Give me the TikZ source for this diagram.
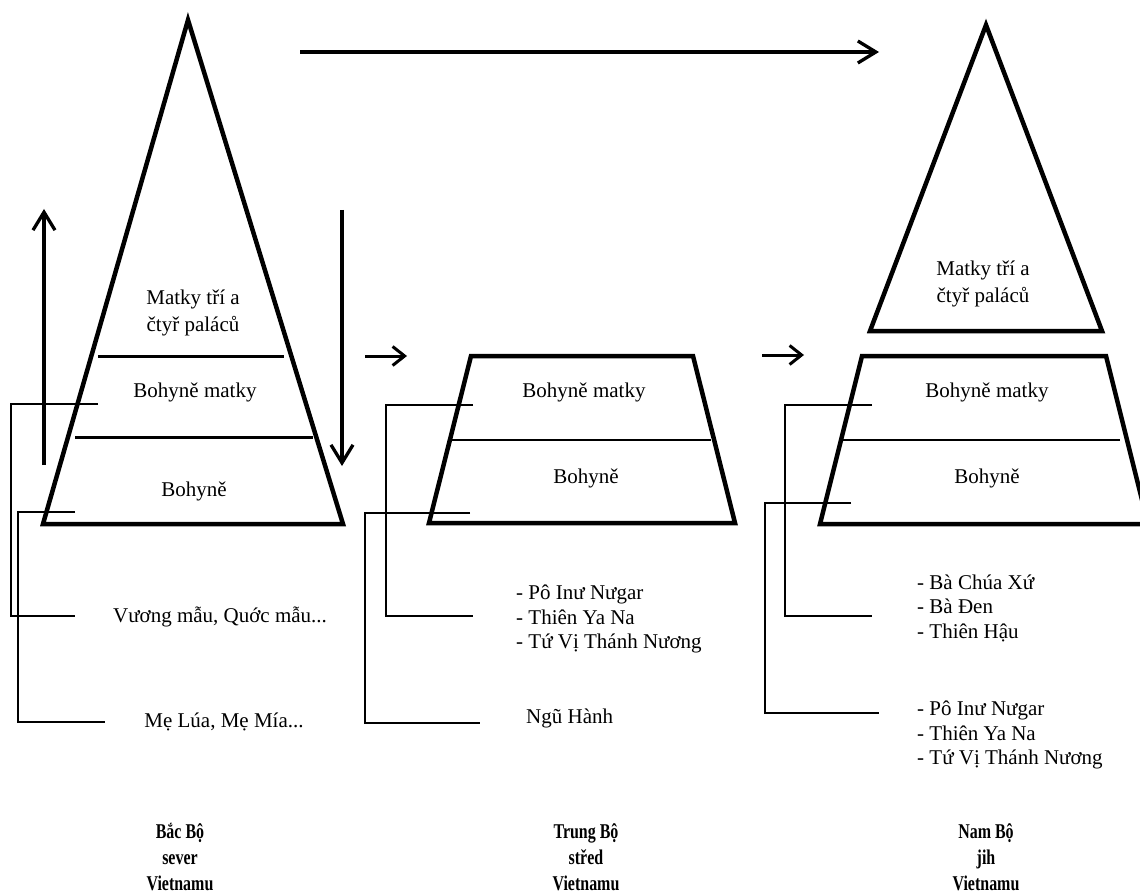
\documentclass[tikz,border=0pt]{standalone}
\usepackage{fontspec}
\setmainfont{Liberation Serif}
\newfontfamily\condfont[FakeStretch=0.76]{Liberation Serif}
\usetikzlibrary{arrows.meta}
\tikzset{
  pyr/.style={line width=4.5pt, line join=miter},
  sepA/.style={line width=3pt},
  sepB/.style={line width=2pt},
  brk/.style={line width=1.5pt},
  bigarrow/.style={line width=3.3pt, -{Straight Barb[length=18pt,width=22pt]}},
  smallarrow/.style={line width=3pt, -{Straight Barb[length=12pt,width=19pt]}},
  lbl/.style={inner sep=0pt, align=center, font=\fontsize{21}{27}\selectfont},
  lst/.style={inner sep=0pt, align=left, font=\fontsize{21}{24.5}\selectfont},
  reg/.style={inner sep=0pt, align=center, font=\condfont\bfseries\fontsize{21}{26}\selectfont}
}
\begin{document}
\begin{tikzpicture}[x=1pt,y=-1pt]
\useasboundingbox (0,0) rectangle (1140,893);
\fill[white] (0,0) rectangle (1140,893);

% ---------- left pyramid ----------
\coordinate (LA) at (188,20);
\coordinate (LR) at (343,524);
\coordinate (LL) at (43,524);
\draw[pyr] (LA) -- (LR) -- (LL) -- cycle;
\coordinate (LS1a) at (98,356); \coordinate (LS1b) at (284,356);
\coordinate (LS2a) at (75,437); \coordinate (LS2b) at (313,437);
\draw[sepA] (LS1a) -- (LS1b);
\draw[sepA] (LS2a) -- (LS2b);
\node[lbl] (lm) at (193,313) {Matky tří a\\čtyř paláců};
\node[lbl] (lbm) at (195,392) {Bohyně matky};
\node[lbl] (lb) at (194,491) {Bohyně};

% side arrows
\coordinate (upS) at (44,465); \coordinate (upE) at (44,209);
\draw[bigarrow] (upS) -- (upE);
\coordinate (dnS) at (342,210); \coordinate (dnE) at (342,466);
\draw[bigarrow] (dnS) -- (dnE);

% top arrow
\coordinate (tS) at (300,52); \coordinate (tE) at (879,52);
\draw[bigarrow] (tS) -- (tE);

% left texts
\node[lbl] (vm) at (220,617) {Vương mẫu, Quớc mẫu...};
\node[lbl] (ml) at (224,722) {Mẹ Lúa, Mẹ Mía...};
\coordinate (LB1s) at (98,404); \coordinate (LB1e) at (75,616);
\draw[brk] (LB1s) -- (11,404) |- (LB1e);
\coordinate (LB2s) at (75,512); \coordinate (LB2e) at (105,722);
\draw[brk] (LB2s) -- (18,512) |- (LB2e);

% ---------- middle trapezoid ----------
\coordinate (sa1S) at (365,356); \coordinate (sa1E) at (407,356);
\draw[smallarrow] (sa1S) -- (sa1E);
\draw[pyr] (471,356) -- (693,356) -- (735,523) -- (429,523) -- cycle;
\coordinate (MSa) at (452,440); \coordinate (MSb) at (711,440);
\draw[sepB] (MSa) -- (MSb);
\node[lbl] (mbm) at (584,392) {Bohyně matky};
\node[lbl] (mb) at (586,478) {Bohyně};
\node[lst, anchor=west] (mlist) at (516,619) {- Pô Inư Nưgar\\- Thiên Ya Na\\- Tứ Vị Thánh Nương};
\node[lst, anchor=west] (ngu) at (526,718) {Ngũ Hành};
\coordinate (MB1s) at (473,405); \coordinate (MB1e) at (473,616);
\draw[brk] (MB1s) -- (386,405) |- (MB1e);
\coordinate (MB2s) at (470,513); \coordinate (MB2e) at (480,723);
\draw[brk] (MB2s) -- (365,513) |- (MB2e);

% ---------- right ----------
\coordinate (sa2S) at (762,355); \coordinate (sa2E) at (804,355);
\draw[smallarrow] (sa2S) -- (sa2E);
\draw[pyr] (986,25) -- (1102,331) -- (870,331) -- cycle;
\node[lbl] (rm) at (983,284) {Matky tří a\\čtyř paláců};
\draw[pyr] (862,356) -- (1106,356) -- (1148,524) -- (820,524) -- cycle;
\coordinate (RSa) at (843,440); \coordinate (RSb) at (1120,440);
\draw[sepB] (RSa) -- (RSb);
\node[lbl] (rbm) at (987,392) {Bohyně matky};
\node[lbl] (rb) at (987,478) {Bohyně};
\node[lst, anchor=west] (rlist1) at (917,608) {- Bà Chúa Xứ\\- Bà Đen\\- Thiên Hậu};
\node[lst, anchor=west] (rlist2) at (917,735) {- Pô Inư Nưgar\\- Thiên Ya Na\\- Tứ Vị Thánh Nương};
\coordinate (RB1s) at (872,405); \coordinate (RB1e) at (872,616);
\draw[brk] (RB1s) -- (785,405) |- (RB1e);
\coordinate (RB2s) at (851,503); \coordinate (RB2e) at (879,713);
\draw[brk] (RB2s) -- (765,503) |- (RB2e);

% ---------- region labels ----------
\node[reg] (r1) at (180,857) {Bắc Bộ\\sever\\Vietnamu};
\node[reg] (r2) at (586,857) {Trung Bộ\\střed\\Vietnamu};
\node[reg] (r3) at (986,857) {Nam Bộ\\jih\\Vietnamu};
\end{tikzpicture}
\end{document}
